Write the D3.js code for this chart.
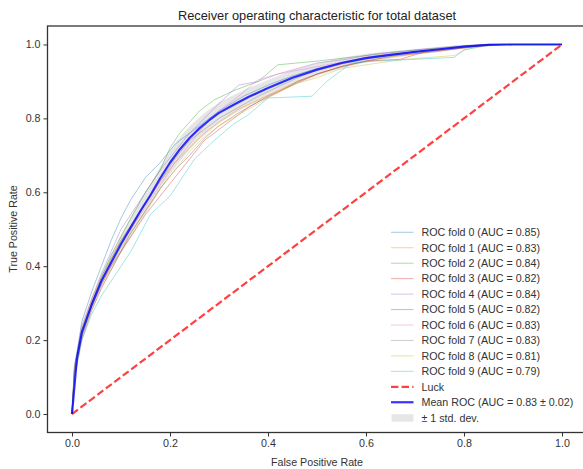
<!DOCTYPE html>
<html><head><meta charset="utf-8">
<script src="https://cdn.jsdelivr.net/npm/d3@7"></script>
<style>body{margin:0;background:#fff}svg{display:block;font-family:"Liberation Sans",Arial,sans-serif}</style>
</head><body><svg id="c" width="583" height="469"></svg>
<script>
const title = "Receiver operating characteristic for total dataset";
const xLabel = "False Positive Rate";
const yLabel = "True Positive Rate";
const ticks = [0, 0.2, 0.4, 0.6, 0.8, 1.0];
const foldAUC = [0.85, 0.83, 0.84, 0.82, 0.84, 0.82, 0.83, 0.83, 0.81, 0.79];
const foldColors = ["#1f77b4","#ff7f0e","#2ca02c","#d62728","#9467bd","#8c564b","#e377c2","#7f7f7f","#bcbd22","#17becf"];
const meanAUC = 0.83, stdAUC = 0.02;

const fold0 = [[0,0],[0.005,0.12],[0.02,0.25],[0.04,0.33],[0.06,0.40],[0.08,0.47],[0.10,0.53],[0.12,0.58],[0.15,0.64],[0.18,0.68],[0.21,0.73],[0.25,0.77],[0.30,0.82],[0.35,0.86],[0.40,0.89],[0.45,0.915],[0.50,0.935],[0.55,0.95],[0.60,0.965],[0.70,0.98],[0.80,0.995],[0.85,1],[1,1]];
const fold1 = [[0,0],[0.005,0.12],[0.02,0.23],[0.04,0.31],[0.06,0.37],[0.08,0.42],[0.10,0.47],[0.12,0.51],[0.15,0.57],[0.18,0.63],[0.21,0.68],[0.24,0.72],[0.27,0.76],[0.30,0.79],[0.34,0.825],[0.38,0.85],[0.42,0.875],[0.46,0.90],[0.50,0.92],[0.56,0.945],[0.62,0.96],[0.70,0.975],[0.78,0.99],[0.84,1],[1,1]];
const fold2 = [[0,0],[0.005,0.13],[0.02,0.23],[0.04,0.30],[0.06,0.37],[0.08,0.43],[0.10,0.48],[0.12,0.53],[0.15,0.60],[0.18,0.66],[0.20,0.72],[0.22,0.76],[0.24,0.79],[0.26,0.82],[0.29,0.85],[0.33,0.875],[0.38,0.90],[0.42,0.945],[0.50,0.955],[0.60,0.97],[0.70,0.985],[0.80,0.995],[0.85,1],[1,1]];
const fold3 = [[0,0],[0.005,0.10],[0.02,0.20],[0.04,0.28],[0.06,0.34],[0.08,0.39],[0.10,0.44],[0.12,0.48],[0.15,0.54],[0.18,0.59],[0.21,0.64],[0.24,0.69],[0.27,0.74],[0.30,0.77],[0.33,0.80],[0.36,0.83],[0.40,0.86],[0.45,0.89],[0.50,0.92],[0.55,0.94],[0.60,0.955],[0.67,0.96],[0.72,0.98],[0.80,0.99],[0.86,1],[1,1]];
const fold4 = [[0,0],[0.005,0.13],[0.02,0.24],[0.04,0.31],[0.06,0.38],[0.08,0.44],[0.10,0.50],[0.12,0.54],[0.15,0.60],[0.18,0.66],[0.21,0.71],[0.24,0.76],[0.27,0.80],[0.30,0.84],[0.34,0.89],[0.38,0.90],[0.42,0.92],[0.46,0.935],[0.50,0.95],[0.56,0.96],[0.62,0.975],[0.70,0.985],[0.78,0.995],[0.84,1],[1,1]];
const fold5 = [[0,0],[0.005,0.11],[0.02,0.21],[0.04,0.29],[0.06,0.35],[0.08,0.40],[0.10,0.44],[0.12,0.49],[0.15,0.55],[0.18,0.61],[0.21,0.66],[0.24,0.70],[0.27,0.745],[0.30,0.78],[0.34,0.815],[0.38,0.845],[0.42,0.87],[0.46,0.90],[0.50,0.92],[0.55,0.94],[0.60,0.955],[0.66,0.97],[0.74,0.98],[0.82,0.995],[0.86,1],[1,1]];
const fold6 = [[0,0],[0.005,0.12],[0.02,0.22],[0.04,0.30],[0.06,0.36],[0.08,0.41],[0.10,0.46],[0.12,0.50],[0.15,0.56],[0.18,0.62],[0.21,0.68],[0.24,0.73],[0.27,0.78],[0.30,0.82],[0.34,0.86],[0.38,0.905],[0.42,0.92],[0.46,0.93],[0.50,0.94],[0.56,0.955],[0.62,0.97],[0.70,0.98],[0.78,0.99],[0.85,1],[1,1]];
const fold7 = [[0,0],[0.005,0.12],[0.02,0.22],[0.04,0.30],[0.06,0.36],[0.08,0.42],[0.10,0.47],[0.12,0.51],[0.15,0.57],[0.18,0.63],[0.21,0.69],[0.24,0.74],[0.27,0.77],[0.30,0.80],[0.34,0.83],[0.38,0.86],[0.42,0.885],[0.46,0.91],[0.50,0.93],[0.56,0.95],[0.62,0.965],[0.70,0.98],[0.78,0.99],[0.85,1],[1,1]];
const fold8 = [[0,0],[0.005,0.10],[0.02,0.21],[0.04,0.29],[0.06,0.35],[0.08,0.40],[0.10,0.45],[0.12,0.49],[0.15,0.55],[0.18,0.61],[0.21,0.66],[0.24,0.71],[0.27,0.75],[0.30,0.78],[0.34,0.81],[0.38,0.84],[0.42,0.87],[0.46,0.895],[0.50,0.91],[0.55,0.935],[0.60,0.945],[0.68,0.96],[0.78,0.97],[0.80,0.985],[0.84,0.995],[0.88,1],[1,1]];
const fold9 = [[0,0],[0.005,0.10],[0.02,0.20],[0.04,0.27],[0.06,0.32],[0.08,0.36],[0.10,0.40],[0.12,0.44],[0.14,0.49],[0.16,0.54],[0.18,0.565],[0.20,0.59],[0.22,0.63],[0.25,0.69],[0.29,0.74],[0.33,0.785],[0.36,0.81],[0.40,0.855],[0.49,0.86],[0.52,0.90],[0.57,0.95],[0.62,0.955],[0.70,0.96],[0.78,0.965],[0.80,0.985],[0.85,1],[1,1]];
const folds = [fold0, fold1, fold2, fold3, fold4, fold5, fold6, fold7, fold8, fold9];

const meanFPR = [0,0.01,0.02,0.04,0.06,0.08,0.10,0.12,0.14,0.16,0.18,0.20,0.22,0.24,0.26,0.28,0.30,0.33,0.36,0.40,0.45,0.50,0.55,0.60,0.65,0.70,0.75,0.80,0.85,0.90,1.0];
const meanTPR = [0,0.15,0.22,0.295,0.36,0.41,0.46,0.505,0.55,0.592,0.638,0.68,0.716,0.747,0.773,0.795,0.815,0.837,0.858,0.882,0.91,0.932,0.95,0.963,0.972,0.98,0.987,0.994,0.999,1.0,1.0];
const stdTPR  = [0,0.012,0.015,0.018,0.02,0.022,0.025,0.028,0.03,0.03,0.032,0.032,0.033,0.032,0.03,0.03,0.028,0.026,0.024,0.022,0.02,0.017,0.014,0.012,0.01,0.008,0.007,0.005,0.003,0.001,0];

const svg = d3.select("#c");
const x = d3.scaleLinear().domain([-0.05, 1.05]).range([47.5, 586.5]);
const y = d3.scaleLinear().domain([-0.05, 1.05]).range([432.5, 26]);
const ink = "#333";
const fs = 10.7;

// std band
const bandData = meanFPR.map((f,i)=>({f, lo: Math.max(meanTPR[i]-stdTPR[i],0), hi: Math.min(meanTPR[i]+stdTPR[i],1)}));
svg.append("path").datum(bandData)
  .attr("d", d3.area().x(d=>x(d.f)).y0(d=>y(d.lo)).y1(d=>y(d.hi)))
  .attr("fill","#808080").attr("fill-opacity",0.2);

const line = d3.line().x(d=>x(d[0])).y(d=>y(d[1]));
folds.forEach((fd,i)=>{
  svg.append("path").datum(fd).attr("d", line)
    .attr("fill","none").attr("stroke",foldColors[i]).attr("stroke-width",1).attr("stroke-opacity",0.4);
});

// luck
svg.append("path").datum([[0,0],[1,1]]).attr("d", line)
  .attr("fill","none").attr("stroke","#ff0000").attr("stroke-opacity",0.75).attr("stroke-width",2.2).attr("stroke-dasharray","7.4,3.2");

// mean
svg.append("path").datum(meanFPR.map((f,i)=>[f,meanTPR[i]])).attr("d", line)
  .attr("fill","none").attr("stroke","#0000ff").attr("stroke-opacity",0.8).attr("stroke-width",2.2).attr("stroke-linejoin","round");

// axes
const fmt = d3.format(".1f");
const gx = svg.append("g").attr("transform","translate(0,432.5)")
  .call(d3.axisBottom(x).tickValues(ticks).tickFormat(fmt).tickSize(4).tickPadding(3));
const gy = svg.append("g").attr("transform","translate(47.5,0)")
  .call(d3.axisLeft(y).tickValues(ticks).tickFormat(fmt).tickSize(4).tickPadding(3));
[gx,gy].forEach(g=>{
  g.select(".domain").remove();
  g.selectAll("line").attr("stroke",ink).attr("stroke-width",1);
  g.selectAll("text").attr("fill",ink).attr("font-size",fs).attr("font-family","Liberation Sans, Arial, sans-serif");
});
// spines
svg.append("rect").attr("x",47.5).attr("y",26).attr("width",539).attr("height",406.5)
  .attr("fill","none").attr("stroke",ink).attr("stroke-width",1.3);

svg.append("text").attr("x",317).attr("y",20).attr("text-anchor","middle")
  .attr("font-size",12.8).attr("fill","#222").text(title);
svg.append("text").attr("x",317).attr("y",465.5).attr("text-anchor","middle")
  .attr("font-size",fs).attr("fill",ink).text(xLabel);
svg.append("text").attr("transform","translate(16.5,229) rotate(-90)").attr("text-anchor","middle")
  .attr("font-size",fs).attr("fill",ink).text(yLabel);

// legend
const legItems = foldAUC.map((a,i)=>({type:"line",color:foldColors[i],op:0.4,w:1,label:`ROC fold ${i} (AUC = ${a.toFixed(2)})`}));
legItems.push({type:"dash",color:"#ff0000",op:0.75,w:2.2,label:"Luck"});
legItems.push({type:"line",color:"#0000ff",op:0.8,w:2.2,label:`Mean ROC (AUC = ${meanAUC.toFixed(2)} \u00b1 ${stdAUC.toFixed(2)})`});
legItems.push({type:"patch",label:"\u00b1 1 std. dev."});
const leg = svg.append("g");
legItems.forEach((d,i)=>{
  const cy = 232.3 + i*15.45;
  if (d.type==="patch") {
    leg.append("rect").attr("x",391.5).attr("y",cy-3.5).attr("width",22).attr("height",7.5)
      .attr("fill","#808080").attr("fill-opacity",0.2);
  } else {
    leg.append("line").attr("x1",391).attr("x2",413.5).attr("y1",cy).attr("y2",cy)
      .attr("stroke",d.color).attr("stroke-opacity",d.op).attr("stroke-width",d.w)
      .attr("stroke-dasharray", d.type==="dash" ? "7.4,3.2" : null);
  }
  leg.append("text").attr("x",421.5).attr("y",cy+3.8).attr("font-size",fs).attr("fill",ink).text(d.label);
});
</script></body></html>
